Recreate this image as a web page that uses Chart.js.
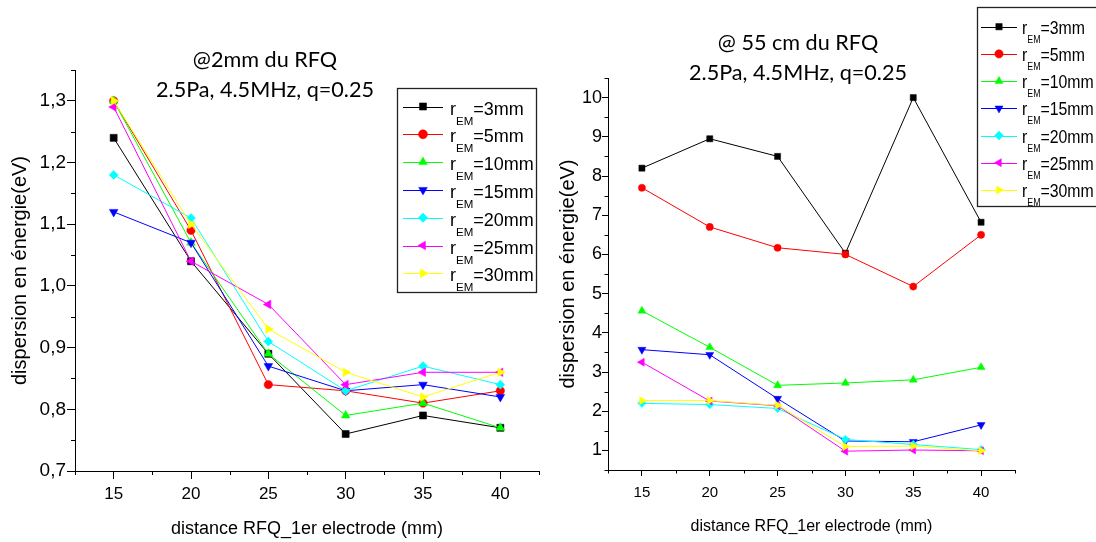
<!DOCTYPE html>
<html><head><meta charset="utf-8">
<script src="https://cdn.jsdelivr.net/npm/chart.js@4.4.1/dist/chart.umd.min.js"></script>
<style>
html,body{margin:0;padding:0;background:#fff;width:1096px;height:542px;overflow:hidden}
canvas{position:absolute;top:0}
#c1{left:0}
#c2{left:556px}
</style></head><body>
<canvas id="c1" width="560" height="542"></canvas>
<canvas id="c2" width="540" height="542"></canvas>
<script>
// ---------- data ----------
const distances = [15, 20, 25, 30, 35, 40];
const seriesNames = ['3mm', '5mm', '10mm', '15mm', '20mm', '25mm', '30mm'];

// left chart: @2mm du RFQ
const left_r3  = [1.24, 1.04, 0.89, 0.76, 0.79, 0.77];
const left_r5  = [1.30, 1.09, 0.84, 0.83, 0.81, 0.83];
const left_r10 = [1.30, 1.07, 0.89, 0.79, 0.81, 0.77];
const left_r15 = [1.12, 1.07, 0.87, 0.83, 0.84, 0.82];
const left_r20 = [1.18, 1.11, 0.91, 0.83, 0.87, 0.84];
const left_r25 = [1.29, 1.04, 0.97, 0.84, 0.86, 0.86];
const left_r30 = [1.30, 1.10, 0.93, 0.86, 0.82, 0.86];

// right chart: @ 55 cm du RFQ
const right_r3  = [8.20, 8.95, 8.50, 6.03, 10.00, 6.82];
const right_r5  = [7.70, 6.70, 6.17, 6.00, 5.18, 6.50];
const right_r10 = [4.56, 3.63, 2.66, 2.72, 2.80, 3.12];
const right_r15 = [3.57, 3.44, 2.32, 1.24, 1.22, 1.65];
const right_r20 = [2.20, 2.17, 2.07, 1.28, 1.15, 1.02];
const right_r25 = [3.25, 2.26, 2.14, 0.98, 1.01, 0.99];
const right_r30 = [2.27, 2.27, 2.15, 1.10, 1.11, 0.99];

// ticks
const xTicks = [15, 20, 25, 30, 35, 40];
const xTickLabels = ['15', '20', '25', '30', '35', '40'];
const xMinorTicks = [12.5, 17.5, 22.5, 27.5, 32.5, 37.5, 42.5];
const leftYTicks = [0.7, 0.8, 0.9, 1.0, 1.1, 1.2, 1.3];
const leftYTickLabels = ['0,7', '0,8', '0,9', '1,0', '1,1', '1,2', '1,3'];
const leftYMinorTicks = [0.75, 0.85, 0.95, 1.05, 1.15, 1.25, 1.35];
const rightYTicks = [1, 2, 3, 4, 5, 6, 7, 8, 9, 10];
const rightYTickLabels = ['1', '2', '3', '4', '5', '6', '7', '8', '9', '10'];
const rightYMinorTicks = [0.5, 1.5, 2.5, 3.5, 4.5, 5.5, 6.5, 7.5, 8.5, 9.5, 10.5];

// ---------- styles ----------
const seriesColors = ['#000000', '#ff0000', '#00ff00', '#0000ff', '#00ffff', '#ff00ff', '#ffff00'];
const seriesPointStyles = ['rect', 'circle', 'triangle', 'triangle', 'rectRot', 'triangle', 'triangle'];
const seriesPointRotations = [0, 0, 0, 180, 0, 270, 90];
const leftPointRadii = [5, 4.2, 5, 5, 4.5, 5, 5];
const rightPointRadii = [4.3, 3.6, 4.6, 4.6, 4.2, 4.6, 4.6];

const TICK_FONT = 'Liberation Sans, Arial, sans-serif';
const TITLE_FONT = 'Lato, "Open Sans", sans-serif';

function buildDatasets(valueLists, radii) {
  return valueLists.map((vals, i) => ({
    label: 'r_EM=' + seriesNames[i],
    data: distances.map((d, k) => ({ x: d, y: vals[k] })),
    borderColor: seriesColors[i],
    backgroundColor: seriesColors[i],
    borderWidth: 1,
    pointStyle: seriesPointStyles[i],
    pointRotation: seriesPointRotations[i],
    pointRadius: radii[i],
    pointBorderWidth: 0.5,
    tension: 0,
    order: valueLists.length - i
  }));
}

function drawMarker(ctx, i, r, x, y) {
  ctx.save();
  ctx.fillStyle = seriesColors[i];
  ctx.strokeStyle = seriesColors[i];
  ctx.lineWidth = 0.5;
  Chart.helpers.drawPoint(ctx, { pointStyle: seriesPointStyles[i], rotation: seriesPointRotations[i], radius: r, borderWidth: 0.5 }, x, y);
  ctx.restore();
}

function fitSize(ctx, text, family, targetW) {
  ctx.font = '100px ' + family;
  return 100 * targetW / ctx.measureText(text).width;
}

// deco plugin: titles, legend, minor ticks
const decoPlugin = {
  id: 'deco',
  afterDraw(chart, args, o) {
    const ctx = chart.ctx;
    const xs = chart.scales.x, ys = chart.scales.y;
    // minor ticks
    ctx.save();
    ctx.strokeStyle = '#000';
    ctx.lineWidth = 1;
    ctx.beginPath();
    o.xMinor.forEach(v => {
      const px = Math.round(xs.getPixelForValue(v)) + 0.5;
      ctx.moveTo(px, xs.top); ctx.lineTo(px, xs.top + o.minorLen);
    });
    o.yMinor.forEach(v => {
      const py = Math.round(ys.getPixelForValue(v)) + 0.5;
      ctx.moveTo(ys.right, py); ctx.lineTo(ys.right - o.minorLen, py);
    });
    ctx.stroke();
    ctx.restore();

    // titles
    ctx.save();
    ctx.fillStyle = '#000';
    ctx.textAlign = 'center';
    ctx.textBaseline = 'alphabetic';
    const sz = fitSize(ctx, o.titles[1], TITLE_FONT, o.titleW);
    ctx.font = sz.toFixed(2) + 'px ' + TITLE_FONT;
    ctx.fillText(o.titles[0], o.titleX, o.titleY[0]);
    ctx.fillText(o.titles[1], o.titleX, o.titleY[1]);
    ctx.restore();

    // legend
    const L = o.legend;
    ctx.save();
    ctx.fillStyle = '#fff';
    ctx.fillRect(L.box[0], L.box[1], L.box[2], L.box[3]);
    ctx.strokeStyle = '#222';
    ctx.lineWidth = 1.3;
    ctx.strokeRect(L.box[0], L.box[1], L.box[2], L.box[3]);
    seriesNames.forEach((name, i) => {
      const y = L.y0 + i * L.dy;
      ctx.strokeStyle = seriesColors[i];
      ctx.lineWidth = 1;
      ctx.beginPath();
      ctx.moveTo(L.line[0], Math.round(y) + 0.5);
      ctx.lineTo(L.line[1], Math.round(y) + 0.5);
      ctx.stroke();
      drawMarker(ctx, i, L.r[i], L.mx, y);
      ctx.fillStyle = '#000';
      ctx.textAlign = 'left';
      ctx.textBaseline = 'alphabetic';
      ctx.save();
      ctx.translate(L.tx, 0);
      ctx.scale(L.sx, 1);
      let x = 0;
      ctx.font = L.main + 'px ' + TICK_FONT;
      ctx.fillText('r', x, y + L.base);
      x += ctx.measureText('r').width;
      ctx.font = L.sub + 'px ' + TICK_FONT;
      ctx.fillText('EM', x, y + L.subBase);
      x += ctx.measureText('EM').width;
      ctx.font = L.main + 'px ' + TICK_FONT;
      ctx.fillText('=' + name, x, y + L.base);
      ctx.restore();
    });
    ctx.restore();
  }
};

function makeChart(id, valueLists, radii, cfg) {
  const ctx = document.getElementById(id).getContext('2d');
  return new Chart(ctx, {
    type: 'line',
    data: { datasets: buildDatasets(valueLists, radii) },
    options: {
      responsive: false,
      animation: false,
      events: [],
      layout: { autoPadding: false, padding: cfg.padding },
      plugins: { legend: { display: false }, tooltip: { enabled: false }, deco: cfg.deco },
      scales: {
        x: {
          type: 'linear', min: 12.5, max: 42.5,
          afterBuildTicks: s => { s.ticks = xTicks.map(v => ({ value: v })); },
          afterFit: s => { s.height = cfg.xHeight; },
          ticks: { callback: (v, i) => xTickLabels[i], autoSkip: false, maxRotation: 0,
                   font: { family: TICK_FONT, size: cfg.xTickSize }, color: '#000', padding: cfg.xTickPad },
          grid: { drawOnChartArea: false, drawTicks: true, tickLength: cfg.tickLen, color: '#000', lineWidth: 1 },
          border: { display: true, color: '#000', width: 1 },
          title: { display: true, text: 'distance RFQ_1er electrode (mm)', color: '#000',
                   font: { family: TICK_FONT, size: cfg.xTitleSize }, padding: { top: 0, bottom: cfg.xTitlePad } }
        },
        y: {
          type: 'linear', min: cfg.yMin, max: cfg.yMax,
          afterBuildTicks: s => { s.ticks = cfg.yTicks.map(v => ({ value: v })); },
          afterFit: s => { s.width = cfg.yWidth; },
          ticks: { callback: (v, i) => cfg.yLabels[i], autoSkip: false,
                   font: { family: TICK_FONT, size: cfg.yTickSize }, color: '#000', padding: cfg.yTickPad },
          grid: { drawOnChartArea: false, drawTicks: true, tickLength: cfg.tickLen, color: '#000', lineWidth: 1 },
          border: { display: true, color: '#000', width: 1 },
          title: { display: true, text: 'dispersion en énergie(eV)', color: '#000',
                   font: { family: TICK_FONT, size: cfg.yTitleSize }, padding: { top: cfg.yTitlePad, bottom: 0 } }
        }
      }
    },
    plugins: [decoPlugin]
  });
}

makeChart('c1',
  [left_r3, left_r5, left_r10, left_r15, left_r20, left_r25, left_r30], leftPointRadii,
  {
    padding: { left: 0, top: 70, right: 21, bottom: 0 },
    xHeight: 71, yWidth: 75,
    yMin: 0.7, yMax: 1.35, yTicks: leftYTicks, yLabels: leftYTickLabels,
    tickLen: 8, xTickSize: 17, xTickPad: 5, yTickSize: 19, yTickPad: 1,
    xTitleSize: 18, xTitlePad: 2, yTitleSize: 20, yTitlePad: 8,
    deco: {
      xMinor: xMinorTicks, yMinor: leftYMinorTicks, minorLen: 4,
      titles: ['@2mm du RFQ', '2.5Pa, 4.5MHz, q=0.25'], titleX: 265, titleY: [67, 97], titleW: 218,
      legend: { box: [397.5, 88.5, 139, 204], y0: 106.5, dy: 27.8, line: [403, 443], mx: 423,
                r: [5, 4.5, 5, 5, 4.7, 5, 5], tx: 450, sx: 1, main: 18, sub: 11.5, base: 8, subBase: 18 }
    }
  });

makeChart('c2',
  [right_r3, right_r5, right_r10, right_r15, right_r20, right_r25, right_r30], rightPointRadii,
  {
    padding: { left: 0, top: 78, right: 81, bottom: 0 },
    xHeight: 72, yWidth: 52,
    yMin: 0.5, yMax: 10.5, yTicks: rightYTicks, yLabels: rightYTickLabels,
    tickLen: 6, xTickSize: 15, xTickPad: 8, yTickSize: 18, yTickPad: 0,
    xTitleSize: 16, xTitlePad: 6, yTitleSize: 20, yTitlePad: 0,
    deco: {
      xMinor: xMinorTicks, yMinor: rightYMinorTicks, minorLen: 3.5,
      titles: ['@ 55 cm du RFQ', '2.5Pa, 4.5MHz, q=0.25'], titleX: 242, titleY: [50, 80], titleW: 218,
      legend: { box: [421.5, 7.5, 200, 199], y0: 26.7, dy: 27.2, line: [425, 461], mx: 443,
                r: [4.5, 4.2, 4.6, 4.6, 4.4, 4.6, 4.6], tx: 466, sx: 0.88, main: 18, sub: 10, base: 7, subBase: 16 }
    }
  });
</script>
</body></html>
